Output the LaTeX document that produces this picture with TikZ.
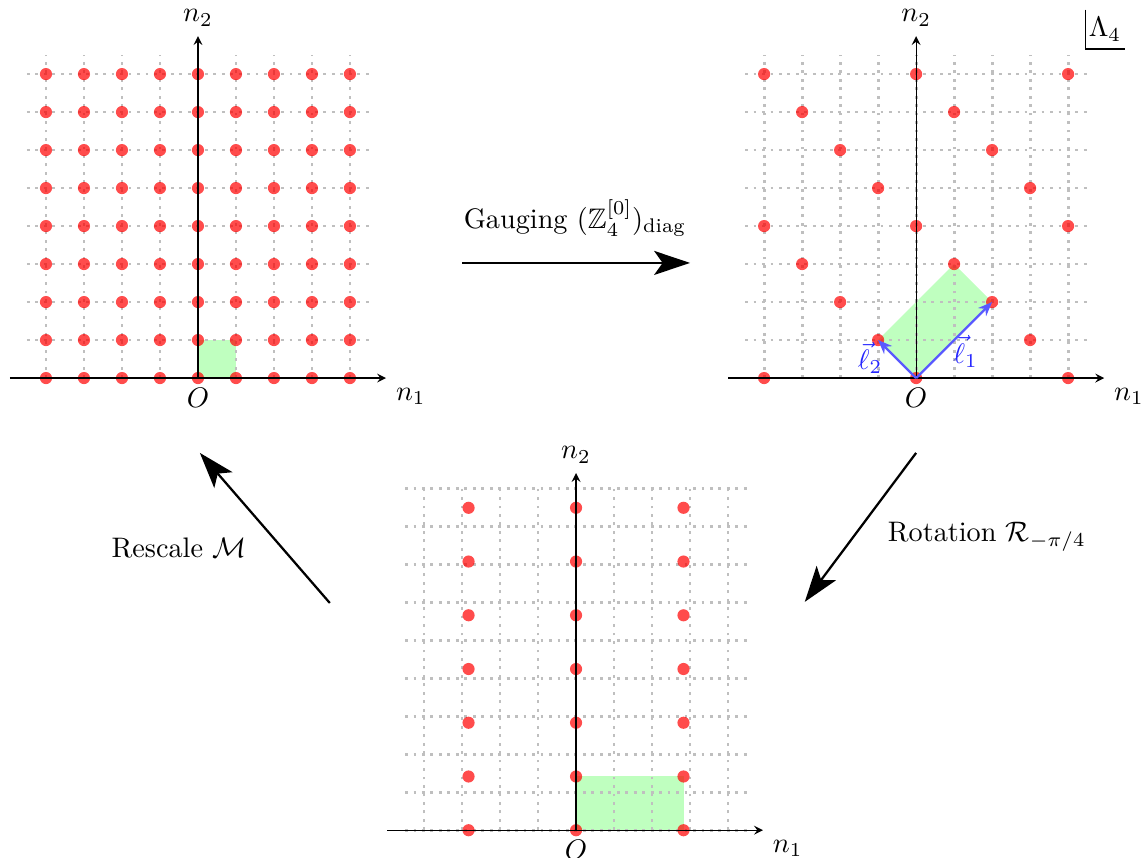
\documentclass[tikz,border=0pt]{standalone}
\usepackage{amsmath}
\usepackage{amssymb}
\usetikzlibrary{arrows.meta}

\tikzset{
  latt/.style={gray!50, dotted, line width=1pt},
  site/.style={red, opacity=0.7},
  cell/.style={green, opacity=0.25},
  bigarrow/.style={line width=0.8pt, -{Stealth[length=12.7pt, width=8.5pt, inset=3pt]}},
  vec/.style={blue!65, thick, -{Stealth[length=5pt, width=4pt]}}
}

\begin{document}
\begin{tikzpicture}[>=stealth, x=0.473cm, y=0.473cm]
	\useasboundingbox (-5.21,-12.63) rectangle (24.95,9.95);
	% Z^2 lattice
	\fill[cell] (0,0) rectangle (1,1);
	\draw[latt, step=1] (-4.5,0) grid (4.5,8.5);
	\foreach \i in {-4,...,4} \foreach \j in {0,...,8} \fill[site] (\i,\j) circle[radius=0.16];
	\draw[->] (-4.95,0) -- (4.95,0) node[below right] (n1A) {$n_1$};
	\draw[->] (0,0) -- (0,9) node[above] (n2A) {$n_2$};
	\node[below] (oA) at (0,0) {$O$};
	% Lambda_4 after gauging
	\begin{scope}[shift={(18.9,0)}]
		\fill[cell] (0,0) -- (2,2) -- (1,3) -- (-1,1) -- cycle;
		\draw[latt, step=1] (-4.5,0) grid (4.5,8.5);
		\foreach \i in {-4,...,4} \foreach \j in {0,...,8} {
			\pgfmathtruncatemacro\r{mod(\i+\j+16,4)}
			\ifnum\r=0 \fill[site] (\i,\j) circle[radius=0.16]; \fi
		}
		\draw[->] (-4.95,0) -- (4.95,0) node[below right] (n1B) {$n_1$};
		\draw[->] (0,0) -- (0,9) node[above] (n2B) {$n_2$};
		\node[below] (oB) at (0,0) {$O$};
		\coordinate (orgB) at (0,0);
		\coordinate (ell1) at (2,2);
		\coordinate (ell2) at (-1,1);
		\draw[vec] (orgB) -- (ell1);
		\draw[vec] (orgB) -- (ell2);
		\node[blue!85] (lab1) at (1.3,0.7) {$\vec{\ell}_1$};
		\node[blue!85] (lab2) at (-1.21,0.53) {$\vec{\ell}_2$};
	\end{scope}
	\node[minimum width=0.473cm, minimum height=0.473cm, inner sep=0pt] (lam) at (23.87,9.18) {$\Lambda_4$};
	\draw[semithick] (lam.north west) |- (lam.south east);
	% rotated lattice
	\begin{scope}[shift={(9.95,-11.9)}]
		\fill[cell] (0,0) rectangle ({2*sqrt(2)},{sqrt(2)});
		\draw[latt, step=1] (-4.5,0) grid (4.5,9);
		\foreach \i in {-1,0,1} \foreach \j in {0,...,6} \fill[site] ({2*sqrt(2)*\i},{sqrt(2)*\j}) circle[radius=0.16];
		\draw[->] (-4.97,0) -- (4.92,0) node[below right] (n1C) {$n_1$};
		\draw[->] (0,0) -- (0,9.4) node[above] (n2C) {$n_2$};
		\node[below] (oC) at (0,0) {$O$};
	\end{scope}
	% maps between the lattices
	\coordinate (gaugeS) at (6.95,3.03);
	\coordinate (gaugeE) at (12.95,3.03);
	\coordinate (rotS) at (18.9,-1.97);
	\coordinate (rotE) at (15.97,-5.89);
	\coordinate (resS) at (3.47,-5.92);
	\coordinate (resE) at (0.05,-1.97);
	\draw[bigarrow] (gaugeS) -- (gaugeE);
	\draw[bigarrow] (rotS) -- (rotE);
	\draw[bigarrow] (resS) -- (resE);
	\node (gaugeL) at (9.92,4.21) {Gauging $(\mathbb{Z}_4^{[0]})_{\text{diag}}$};
	\node (rotL) at (20.76,-4.18) {Rotation $\mathcal{R}_{-\pi/4}$};
	\node (resL) at (-0.5,-4.47) {Rescale $\mathcal{M}$};
\end{tikzpicture}
\end{document}
